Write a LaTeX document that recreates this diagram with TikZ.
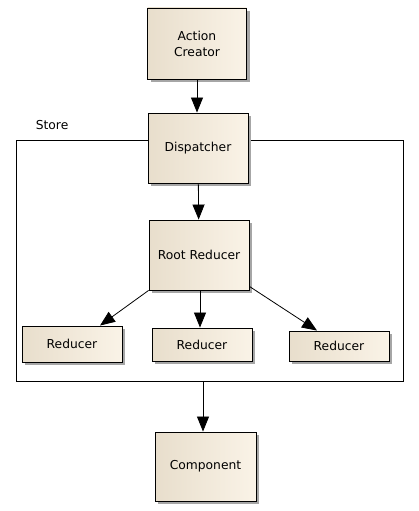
\documentclass[tikz,border=0pt]{standalone}
\usepackage{fontspec}
\setmainfont{DejaVu Sans}
\usetikzlibrary{arrows.meta,shadows}
\definecolor{boxL}{RGB}{232,222,204}
\definecolor{boxR}{RGB}{250,243,231}
\tikzset{
  blk/.style={draw=black, line width=0.9pt, left color=boxL, right color=boxR,
    general shadow={fill=black!35, shadow xshift=3pt, shadow yshift=-3pt},
    minimum width=100pt, align=center, font=\fontsize{12.3}{16}\selectfont, inner sep=0pt},
  conn/.style={draw=black, line width=0.8pt, -{Triangle[length=15pt,width=12pt]}},
}
\begin{document}
\begin{tikzpicture}[x=1pt,y=-1pt]
\useasboundingbox (0,0) rectangle (419,511);
\node[draw=black, line width=0.8pt, minimum width=387pt, minimum height=241pt, inner sep=0pt] (store) at (209.5,260.5) {};
\node[anchor=south west, font=\fontsize{12.3}{15}\selectfont, inner sep=0pt] (storelbl) at ([xshift=20pt,yshift=10pt]store.north west) {Store};
\node[blk, minimum width=99pt, minimum height=71pt] (ac) at (197,43.5) {Action\\Creator};
\node[blk, minimum height=70pt] (disp) at (198,148) {Dispatcher};
\node[blk, minimum height=70pt] (root) at (199,255) {Root Reducer};
\node[blk, minimum height=36pt] (r1) at (72,344) {Reducer};
\node[blk, minimum height=33pt] (r2) at (202,344.5) {Reducer};
\node[blk, minimum height=30pt] (r3) at (339,346) {Reducer};
\node[blk, minimum width=101pt, minimum height=69pt] (comp) at (205.5,466.5) {Component};
\draw[conn] (ac.south -| 197,0) -- (disp.north -| 197,0);
\draw[conn] (disp) -- (root);
\draw[conn] (root.south west) -- ([xshift=28pt]r1.north);
\draw[conn] (root.south -| 200,0) -- (r2.north -| 200,0);
\draw[conn] ([yshift=4pt]root.south east) -- ([xshift=-22pt]r3.north);
\draw[conn] (store.south -| 203,0) -- (comp.north -| 203,0);
\end{tikzpicture}
\end{document}
